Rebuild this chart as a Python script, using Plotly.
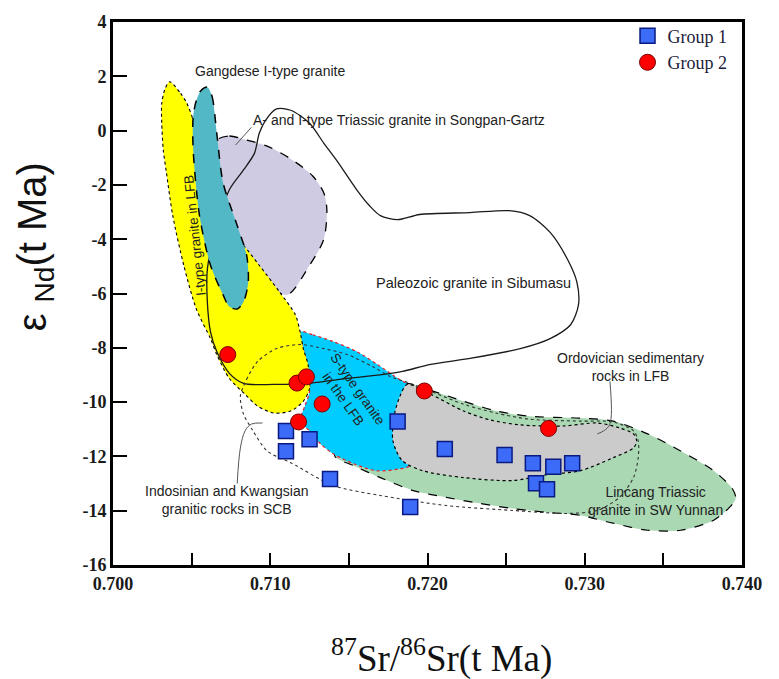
import plotly.graph_objects as go

# ---- sample data: 87Sr/86Sr(t) vs eps Nd(t) ----
group1_sr = [0.7110, 0.7110, 0.7125, 0.7138, 0.7181, 0.7189, 0.7211, 0.7249,
             0.7267, 0.7280, 0.7292, 0.7269, 0.7276]
group1_nd = [-11.06, -11.81, -11.37, -12.83, -10.71, -13.86, -11.73, -11.95,
             -12.25, -12.38, -12.25, -12.99, -13.21]

group2_sr = [0.7073, 0.7117, 0.7123, 0.7133, 0.7118, 0.7198, 0.7277]
group2_nd = [-8.25, -9.30, -9.07, -10.07, -10.73, -9.59, -10.97]

# ---- reference fields (outline vertices, Sr, Nd) ----
green_sr = [0.7184, 0.7202, 0.7223, 0.7244, 0.7265, 0.7297, 0.7318, 0.7340, 0.7361,
            0.7382, 0.7394, 0.7396, 0.7392, 0.7382, 0.7361, 0.7340, 0.7318, 0.7297,
            0.7276, 0.7254, 0.7233, 0.7212, 0.7191, 0.7170, 0.7153, 0.7141, 0.7148,
            0.7167, 0.7184]
green_nd = [-9.31, -9.57, -9.97, -10.33, -10.52, -10.59, -10.70, -11.17, -11.80,
            -12.53, -13.20, -13.55, -13.88, -14.35, -14.72, -14.72, -14.46, -14.17,
            -14.06, -13.92, -13.73, -13.51, -13.26, -12.78, -12.34, -11.98, -11.06,
            -9.97, -9.31]

stype_sr = [0.7119, 0.7127, 0.7140, 0.7155, 0.7168, 0.7179, 0.7189, 0.7195, 0.7197,
            0.7189, 0.7183, 0.7168, 0.7153, 0.7140, 0.7132, 0.7125, 0.7119, 0.7122,
            0.7125, 0.7123, 0.7119]
stype_nd = [-7.41, -7.52, -7.77, -8.14, -8.61, -9.05, -9.42, -9.97, -11.43,
            -12.34, -12.45, -12.53, -12.27, -11.90, -11.54, -11.06, -10.70, -10.15,
            -9.60, -8.50, -7.41]

gray_sr = [0.7187, 0.7202, 0.7223, 0.7240, 0.7259, 0.7286, 0.7308, 0.7322, 0.7331,
           0.7333, 0.7331, 0.7318, 0.7297, 0.7276, 0.7254, 0.7223, 0.7197, 0.7184,
           0.7178, 0.7179, 0.7183, 0.7187]
gray_nd = [-9.35, -9.71, -10.33, -10.66, -10.84, -10.88, -10.77, -10.95, -11.17,
           -11.43, -11.69, -12.05, -12.53, -12.67, -12.89, -12.78, -12.53, -12.16,
           -11.43, -10.44, -9.71, -9.35]

lavender_sr = [0.7066, 0.7074, 0.7085, 0.7098, 0.7114, 0.7127, 0.7134, 0.7136, 0.7134,
               0.7125, 0.7111, 0.7100, 0.7081, 0.7068, 0.7063, 0.7066]
lavender_nd = [-0.35, -0.20, -0.35, -0.57, -1.08, -1.67, -2.29, -2.91, -4.01,
               -4.96, -6.05, -5.76, -4.48, -2.65, -1.19, -0.35]

yellow_sr = [0.7036, 0.7043, 0.7047, 0.7051, 0.7055, 0.7062, 0.7071, 0.7083, 0.7093,
             0.7106, 0.7116, 0.7119, 0.7121, 0.7124, 0.7125, 0.7121, 0.7113, 0.7102,
             0.7092, 0.7084, 0.7074, 0.7066, 0.7062, 0.7053, 0.7045, 0.7038, 0.7034,
             0.7032, 0.7031, 0.7031, 0.7033, 0.7036]
yellow_nd = [1.80, 1.37, 1.00, 0.38, -0.83, -2.29, -3.57, -4.23, -4.96,
             -5.95, -6.79, -7.41, -8.03, -8.61, -9.49, -9.97, -10.33, -10.40,
             -10.15, -9.71, -9.13, -8.25, -7.66, -6.57, -4.96, -3.13, -1.56,
             -0.72, 0.27, 1.00, 1.52, 1.80]

gangdese_sr = [0.7060, 0.7063, 0.7066, 0.7070, 0.7079, 0.7085, 0.7086, 0.7083, 0.7079,
               0.7074, 0.7070, 0.7062, 0.7055, 0.7051, 0.7051, 0.7053, 0.7056, 0.7060]
gangdese_nd = [1.60, 1.26, -0.10, -1.92, -3.50, -4.59, -5.58, -6.31, -6.57,
               -6.49, -6.05, -4.96, -3.13, -0.72, 0.53, 1.11, 1.48, 1.60]

paleozoic_sr = [0.7104, 0.7113, 0.7125, 0.7134, 0.7142, 0.7155, 0.7163, 0.7170, 0.7181,
                0.7195, 0.7227, 0.7252, 0.7265, 0.7278, 0.7289, 0.7295, 0.7296, 0.7291,
                0.7278, 0.7259, 0.7227, 0.7202, 0.7184, 0.7172, 0.7144, 0.7125, 0.7102,
                0.7083, 0.7074, 0.7066, 0.7062, 0.7060, 0.7060, 0.7065, 0.7074, 0.7083,
                0.7090, 0.7093, 0.7097, 0.7104]
paleozoic_nd = [0.80, 0.75, 0.27, -0.46, -1.08, -2.18, -2.76, -3.13, -3.28,
                -3.09, -3.02, -2.95, -3.13, -3.75, -4.74, -5.58, -6.42, -7.15,
                -7.66, -8.03, -8.39, -8.61, -8.87, -8.98, -9.16, -9.31, -9.35,
                -9.31, -8.94, -8.14, -7.41, -6.31, -5.10, -3.75, -2.18, -1.45,
                -0.83, -0.10, 0.38, 0.80]

indosinian_sr = [0.7081, 0.7085, 0.7092, 0.7104, 0.7119, 0.7134, 0.7149, 0.7165, 0.7176,
                 0.7187, 0.7202, 0.7223, 0.7244, 0.7265, 0.7297, 0.7318, 0.7331, 0.7334,
                 0.7334, 0.7331, 0.7322, 0.7308, 0.7289, 0.7254, 0.7212, 0.7170, 0.7140,
                 0.7113, 0.7098, 0.7089, 0.7083, 0.7081]
indosinian_nd = [-9.78, -9.16, -8.50, -8.03, -7.88, -8.03, -8.25, -8.69, -9.05,
                 -9.27, -9.60, -10.08, -10.41, -10.63, -10.70, -10.73, -11.06, -11.43,
                 -12.05, -12.78, -13.51, -13.99, -14.10, -13.99, -13.81, -13.44, -13.07,
                 -12.23, -11.80, -11.06, -10.44, -9.78]

# leader lines from field labels
leader_songpan_sr = [0.7088, 0.7078]
leader_songpan_nd = [0.12, -0.53]
leader_scb_sr = [0.7079, 0.7081, 0.7084, 0.7088, 0.7095]
leader_scb_nd = [-13.00, -11.69, -11.06, -10.81, -10.77]
leader_ordo_sr = [0.7316, 0.7316, 0.7312, 0.7308]
leader_ordo_nd = [-9.24, -10.81, -11.06, -11.17]

x_ticks = [0.700, 0.710, 0.720, 0.730, 0.740]
y_ticks = [4, 2, 0, -2, -4, -6, -8, -10, -12, -14, -16]

SANS = "Arial, Liberation Sans, sans-serif"
SERIF = "Times New Roman, Liberation Serif, serif"
TXT = "#222222"

fig = go.Figure()


def field(xs, ys, fill, dash, lcolor="black", lwidth=1.1):
    fig.add_trace(go.Scatter(
        x=xs, y=ys, mode="lines", fill="toself" if fill else None,
        fillcolor=fill, showlegend=False, hoverinfo="skip",
        line=dict(color=lcolor, width=lwidth, dash=dash, shape="spline", smoothing=0.8),
    ))


field(green_sr, green_nd, "#A9D8B2", "dash", lwidth=1.2)
field(stype_sr, stype_nd, "#00CCFF", "dot", lcolor="#E8202A", lwidth=1.2)
field(gray_sr, gray_nd, "#CBCBCB", "dot", lwidth=1.2)
field(lavender_sr, lavender_nd, "#CFCBE3", "dash", lwidth=1.3)
field(yellow_sr, yellow_nd, "#FFFF00", "dot", lwidth=1.1)
field(paleozoic_sr, paleozoic_nd, None, "solid", lcolor="#1a1a1a", lwidth=1.3)
field(indosinian_sr, indosinian_nd, None, "dot", lcolor="#333333", lwidth=1.1)
field(gangdese_sr, gangdese_nd, "#52B8C6", "dash", lwidth=1.5)

for lx, ly in [(leader_songpan_sr, leader_songpan_nd),
               (leader_scb_sr, leader_scb_nd),
               (leader_ordo_sr, leader_ordo_nd)]:
    fig.add_trace(go.Scatter(x=lx, y=ly, mode="lines", showlegend=False, hoverinfo="skip",
                             line=dict(color="#555555", width=1, shape="spline")))

fig.add_trace(go.Scatter(
    x=group1_sr, y=group1_nd, mode="markers", name="Group 1",
    marker=dict(symbol="square", size=15, color="#3B6BF7",
                line=dict(color="#0A1A80", width=1.5)),
))
fig.add_trace(go.Scatter(
    x=group2_sr, y=group2_nd, mode="markers", name="Group 2",
    marker=dict(symbol="circle", size=16, color="#FF0000",
                line=dict(color="#7A0000", width=1)),
))

labels = [
    ("Gangdese I-type granite", 0.7100, 2.20, 0, 14),
    ("A- and I-type Triassic granite in Songpan-Gartz", 0.7182, 0.40, 0, 14),
    ("Paleozoic granite in Sibumasu", 0.7229, -5.62, 0, 14.5),
    ("Ordovician sedimentary<br>rocks in LFB", 0.7329, -8.69, 0, 14),
    ("Lincang Triassic<br>granite in SW Yunnan", 0.7345, -13.66, 0, 14),
    ("Indosinian and Kwangsian<br>granitic rocks in SCB", 0.7072, -13.62, 0, 14),
    ("I-type granite in LFB", 0.7052, -3.86, -96, 13.5),
    ("S-type granite<br>in the LFB", 0.7151, -9.72, 55, 13.5),
]
for text, lx, ly, ang, fs in labels:
    fig.add_annotation(x=lx, y=ly, xref="x", yref="y", text=text, showarrow=False,
                       textangle=ang, font=dict(family=SANS, size=fs, color=TXT),
                       align="center", xanchor="center", yanchor="middle")

fig.add_annotation(xref="paper", yref="paper", x=-0.124, y=0.585, text="ε <sub>Nd</sub>(t Ma)",
                   textangle=-90, showarrow=False, xanchor="center", yanchor="middle",
                   font=dict(family=SANS, size=40, color="#111111"))
fig.add_annotation(xref="paper", yref="paper", x=0.522, y=-0.168,
                   text="<sup>87</sup>Sr/<sup>86</sup>Sr(t Ma)", showarrow=False,
                   xanchor="center", yanchor="middle",
                   font=dict(family=SERIF, size=37, color="#111111"))

fig.update_xaxes(
    range=[0.700, 0.740], tickvals=x_ticks, ticktext=[f"<b>{v:.3f}</b>" for v in x_ticks],
    ticks="inside", ticklen=12, tickwidth=1.5, tickcolor="black",
    minor=dict(dtick=0.005, tick0=0.700, ticks="inside", ticklen=12, tickwidth=1.5,
               tickcolor="black", showgrid=False),
    showline=True, linewidth=3, linecolor="black", mirror=True, showgrid=False,
    zeroline=False, tickfont=dict(family=SERIF, size=18, color="#1a1a1a"),
)
fig.update_yaxes(
    range=[-16, 4], tickvals=y_ticks, ticktext=[f"<b>{v}</b>" for v in y_ticks],
    ticks="inside", ticklen=14, tickwidth=1.5,
    tickcolor="black", showline=True, linewidth=3, linecolor="black", mirror=True,
    showgrid=False, zeroline=False, tickfont=dict(family=SERIF, size=18, color="#1a1a1a"),
)

fig.update_layout(
    width=779, height=679, plot_bgcolor="white", paper_bgcolor="white",
    margin=dict(l=113, r=37, t=16, b=114),
    legend=dict(x=0.818, y=1.008, xanchor="left", yanchor="top", bgcolor="rgba(0,0,0,0)",
                font=dict(family=SERIF, size=18, color="#1b1b3a"), itemwidth=30,
                tracegroupgap=0),
)

fig.write_html("out.html")
